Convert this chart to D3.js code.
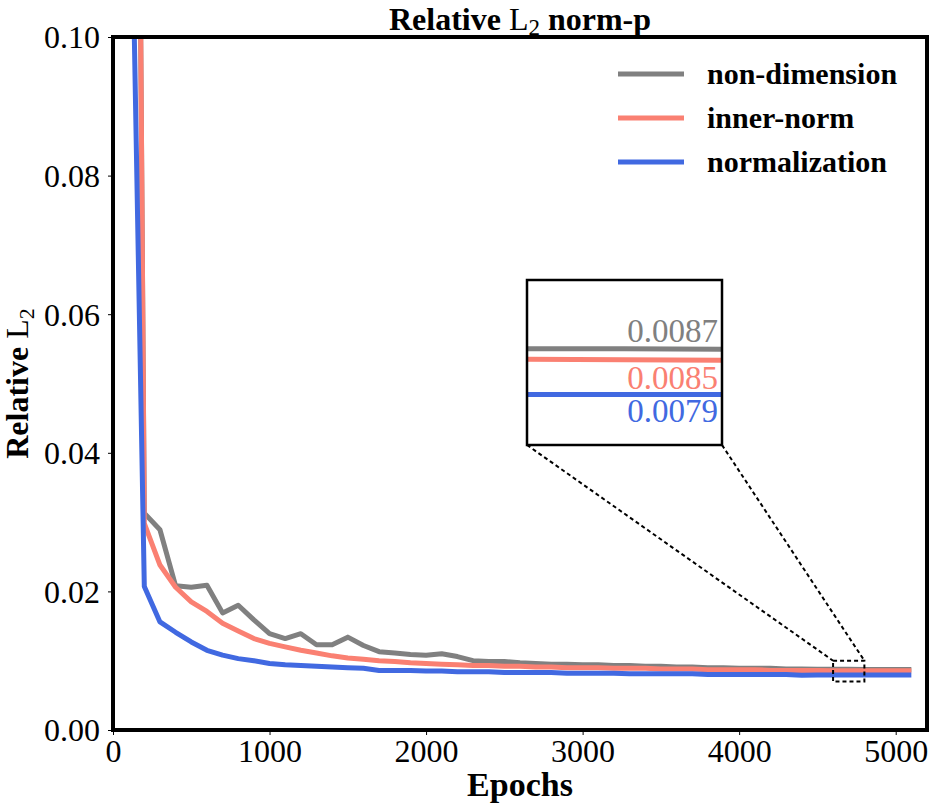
<!DOCTYPE html>
<html>
<head>
<meta charset="utf-8">
<script src="https://cdn.jsdelivr.net/npm/d3@7"></script>
<style>
    body { margin: 0; background: #fff; }
    text { font-family: "Liberation Serif", "Times New Roman", serif; }
</style>
</head>
<body>
<div id="chart"></div>
<script>
// epochs sampled every 100
const epochs = [100, 200, 300, 400, 500, 600, 700, 800, 900, 1000,
    1100, 1200, 1300, 1400, 1500, 1600, 1700, 1800, 1900, 2000,
    2100, 2200, 2300, 2400, 2500, 2600, 2700, 2800, 2900, 3000,
    3100, 3200, 3300, 3400, 3500, 3600, 3700, 3800, 3900, 4000,
    4100, 4200, 4300, 4400, 4500, 4600, 4700, 4800, 4900, 5000, 5100];

const nonDimension = [0.33, 0.0313, 0.0289, 0.0208, 0.0206, 0.0209, 0.0169, 0.0180, 0.0159, 0.0139,
    0.0132, 0.0139, 0.0123, 0.0123, 0.0134, 0.0122, 0.0113, 0.0111, 0.0109, 0.0108,
    0.0110, 0.0106, 0.0100, 0.0099, 0.0099, 0.0097, 0.0096, 0.0095, 0.0095, 0.0094,
    0.0094, 0.0093, 0.0093, 0.0092, 0.0092, 0.0091, 0.0091, 0.0090, 0.0090, 0.0089,
    0.0089, 0.0089, 0.0088, 0.0088, 0.00878, 0.00875, 0.00875, 0.00874, 0.00874, 0.00874, 0.00874];

const innerNorm = [0.34, 0.0298, 0.0238, 0.0206, 0.0185, 0.0171, 0.0154, 0.0143, 0.0132, 0.0125,
    0.0120, 0.0115, 0.0111, 0.0107, 0.0104, 0.0102, 0.0100, 0.0099, 0.0097, 0.0096,
    0.0095, 0.0094, 0.0093, 0.0093, 0.0092, 0.0092, 0.0091, 0.0091, 0.0090, 0.0090,
    0.0090, 0.0089, 0.0089, 0.0089, 0.0088, 0.0088, 0.0088, 0.0087, 0.0087, 0.0087,
    0.0087, 0.0086, 0.0086, 0.0086, 0.00858, 0.00856, 0.00855, 0.00854, 0.00854, 0.00854, 0.00854];

const normalization = [0.145, 0.0207, 0.0156, 0.0141, 0.0127, 0.0115, 0.0108, 0.0103, 0.0100, 0.0096,
    0.0094, 0.0093, 0.0092, 0.0091, 0.0090, 0.0089, 0.0086, 0.0086, 0.0086, 0.0085,
    0.0085, 0.0084, 0.0084, 0.0084, 0.0083, 0.0083, 0.0083, 0.0083, 0.0082, 0.0082,
    0.0082, 0.0082, 0.0081, 0.0081, 0.0081, 0.0081, 0.0081, 0.0080, 0.0080, 0.0080,
    0.0080, 0.0080, 0.0080, 0.0079, 0.00792, 0.00792, 0.00792, 0.00792, 0.00792, 0.00792, 0.00792];

const seriesNames = ["non-dimension", "inner-norm", "normalization"];
const seriesColors = ["#808080", "#FA8072", "#4169E1"];
const insetLabels = ["0.0087", "0.0085", "0.0079"];

const xTicks = [0, 1000, 2000, 3000, 4000, 5000];
const yTicks = [0.00, 0.02, 0.04, 0.06, 0.08, 0.10];

const xDomain = [0, 5200];
const yDomain = [0, 0.1];
const zoomX = [4600, 4800];
const zoomY = [0.007, 0.010];

const W = 930, H = 806;
const margin = { top: 37, right: 3, bottom: 76, left: 113 };
const width = W - margin.left - margin.right;
const height = H - margin.top - margin.bottom;

const svg = d3.select("#chart").append("svg")
    .attr("width", W)
    .attr("height", H);

const g = svg.append("g")
    .attr("transform", `translate(${margin.left},${margin.top})`);

const x = d3.scaleLinear().domain(xDomain).range([0, width]);
const y = d3.scaleLinear().domain(yDomain).range([height, 0]);

const allSeries = [nonDimension, innerNorm, normalization].map((vals, i) => ({
    name: seriesNames[i],
    color: seriesColors[i],
    label: insetLabels[i],
    values: epochs.map((e, j) => ({ epoch: e, value: vals[j] }))
}));

// clip
svg.append("defs").append("clipPath").attr("id", "plot-clip")
    .append("rect").attr("width", width).attr("height", height);

const line = d3.line()
    .x(d => x(d.epoch))
    .y(d => y(d.value));

const plot = g.append("g").attr("clip-path", "url(#plot-clip)");
allSeries.forEach(s => {
    plot.append("path")
        .datum(s.values)
        .attr("fill", "none")
        .attr("stroke", s.color)
        .attr("stroke-width", 5)
        .attr("stroke-linejoin", "round")
        .attr("d", line);
});

// axes
const xAxis = g.append("g")
    .attr("transform", `translate(0,${height})`)
    .call(d3.axisBottom(x).tickValues(xTicks).tickSize(5).tickFormat(d3.format("d")));
const yAxis = g.append("g")
    .call(d3.axisLeft(y).tickValues(yTicks).tickSize(5).tickFormat(d3.format(".2f")));

[xAxis, yAxis].forEach(a => {
    a.select(".domain").remove();
    a.selectAll("line").attr("stroke", "#000").attr("stroke-width", 1);
    a.selectAll("text")
        .style("font-family", '"Liberation Serif", serif')
        .style("font-size", "32px")
        .attr("fill", "#000");
});
xAxis.selectAll("text").attr("y", 9).attr("dy", "0.71em");
yAxis.selectAll("text").attr("x", -13).attr("dy", "0.34em");

// frame
g.append("rect")
    .attr("width", width)
    .attr("height", height)
    .attr("fill", "none")
    .attr("stroke", "#000")
    .attr("stroke-width", 4);

// zoom box in main plot
g.append("rect")
    .attr("x", x(zoomX[0]))
    .attr("y", y(zoomY[1]))
    .attr("width", x(zoomX[1]) - x(zoomX[0]))
    .attr("height", y(zoomY[0]) - y(zoomY[1]))
    .attr("fill", "none")
    .attr("stroke", "#000")
    .attr("stroke-width", 2)
    .attr("stroke-dasharray", "4,3");

// inset axes
const inset = { x: 527 - margin.left, y: 280 - margin.top, w: 195, h: 165 };
const xi = d3.scaleLinear().domain(zoomX).range([inset.x, inset.x + inset.w]);
const yi = d3.scaleLinear().domain(zoomY).range([inset.y + inset.h, inset.y]);

// connector lines
[[zoomX[0], inset.x], [zoomX[1], inset.x + inset.w]].forEach(([ev, ix]) => {
    g.append("line")
        .attr("x1", ix)
        .attr("y1", inset.y + inset.h)
        .attr("x2", x(ev))
        .attr("y2", y(zoomY[1]))
        .attr("stroke", "#000")
        .attr("stroke-width", 2)
        .attr("stroke-dasharray", "4,3");
});

g.append("rect")
    .attr("x", inset.x).attr("y", inset.y)
    .attr("width", inset.w).attr("height", inset.h)
    .attr("fill", "#fff");

svg.select("defs").append("clipPath").attr("id", "inset-clip")
    .append("rect")
    .attr("x", inset.x).attr("y", inset.y)
    .attr("width", inset.w).attr("height", inset.h);

const insetLine = d3.line()
    .x(d => xi(d.epoch))
    .y(d => yi(d.value));

const insetG = g.append("g").attr("clip-path", "url(#inset-clip)");
allSeries.forEach(s => {
    insetG.append("path")
        .datum(s.values)
        .attr("fill", "none")
        .attr("stroke", s.color)
        .attr("stroke-width", 5)
        .attr("d", insetLine);
});

// inset value labels (gray above its line, the others below)
const labelOffsets = [-7, 29, 28];
allSeries.forEach((s, i) => {
    const last = s.values.find(d => d.epoch === zoomX[1]);
    g.append("text")
        .attr("x", inset.x + inset.w - 4)
        .attr("y", yi(last.value) + labelOffsets[i])
        .attr("text-anchor", "end")
        .style("font-size", "33px")
        .attr("fill", s.color)
        .text(s.label);
});

g.append("rect")
    .attr("x", inset.x).attr("y", inset.y)
    .attr("width", inset.w).attr("height", inset.h)
    .attr("fill", "none")
    .attr("stroke", "#000")
    .attr("stroke-width", 2.5);

// legend
const legend = g.append("g")
    .attr("transform", `translate(${618 - margin.left}, ${74 - margin.top})`);
allSeries.forEach((s, i) => {
    const row = legend.append("g").attr("transform", `translate(0, ${i * 44})`);
    row.append("line")
        .attr("x1", 0).attr("x2", 66)
        .attr("stroke", s.color)
        .attr("stroke-width", 5);
    row.append("text")
        .attr("x", 89)
        .attr("y", 10)
        .style("font-size", "30px")
        .style("font-weight", "bold")
        .text(s.name);
});

// title
const title = svg.append("text")
    .attr("x", margin.left + width / 2)
    .attr("y", 30)
    .attr("text-anchor", "middle")
    .style("font-size", "32px")
    .style("font-weight", "bold");
title.append("tspan").text("Relative ");
title.append("tspan").style("font-weight", "normal").text("L");
title.append("tspan").style("font-weight", "normal").style("font-size", "23px").attr("dy", 5).text("2");
title.append("tspan").attr("dy", -5).text(" norm-p");

// axis labels
svg.append("text")
    .attr("x", margin.left + width / 2)
    .attr("y", 796)
    .attr("text-anchor", "middle")
    .style("font-size", "34px")
    .style("font-weight", "bold")
    .text("Epochs");

const ylab = svg.append("text")
    .attr("transform", `translate(28, ${margin.top + height / 2}) rotate(-90)`)
    .attr("text-anchor", "middle")
    .style("font-size", "32px")
    .style("font-weight", "bold");
ylab.append("tspan").text("Relative ");
ylab.append("tspan").style("font-weight", "normal").text("L");
ylab.append("tspan").style("font-weight", "normal").style("font-size", "22px").attr("dy", 6).text("2");
</script>
</body>
</html>
